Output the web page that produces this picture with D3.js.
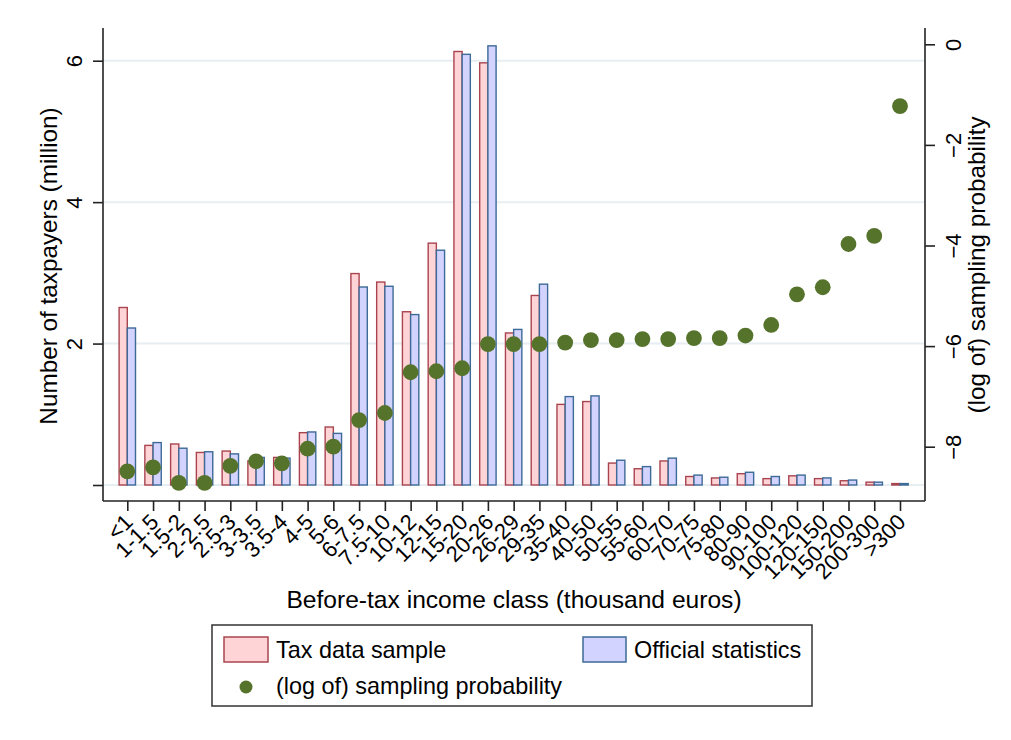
<!DOCTYPE html>
<html>
<head>
<meta charset="utf-8">
<script src="https://cdn.jsdelivr.net/npm/d3@7"></script>
<style>
  html, body { margin: 0; padding: 0; background: #ffffff; }
  svg { display: block; font-family: "Liberation Sans", Arial, sans-serif; }
</style>
</head>
<body>
<svg id="chart" width="1011" height="740"></svg>
<script>
// ---------------- data ----------------
const categories = ["<1","1-1.5","1.5-2","2-2.5","2.5-3","3-3.5","3.5-4","4-5","5-6","6-7.5","7.5-10","10-12","12-15","15-20","20-26","26-29","29-35","35-40","40-50","50-55","55-60","60-70","70-75","75-80","80-90","90-100","100-120","120-150","150-200","200-300",">300"];
const taxSample = [2.51,0.56,0.58,0.46,0.48,0.34,0.39,0.74,0.82,2.99,2.87,2.45,3.42,6.13,5.97,2.15,2.68,1.14,1.18,0.31,0.23,0.34,0.12,0.10,0.16,0.09,0.13,0.09,0.06,0.04,0.02];
const officialStats = [2.22,0.60,0.52,0.47,0.44,0.39,0.38,0.75,0.73,2.80,2.81,2.41,3.32,6.09,6.21,2.20,2.84,1.25,1.26,0.35,0.26,0.38,0.14,0.11,0.18,0.12,0.14,0.10,0.07,0.04,0.02];
const logProb = [-8.49,-8.41,-8.72,-8.72,-8.38,-8.29,-8.33,-8.04,-8.00,-7.47,-7.33,-6.52,-6.50,-6.44,-5.96,-5.96,-5.96,-5.93,-5.88,-5.88,-5.86,-5.86,-5.84,-5.84,-5.79,-5.58,-4.97,-4.83,-3.97,-3.81,-1.23];
const leftTicks = [0, 2, 4, 6];
const leftTickLabels = ["", "2", "4", "6"];
const rightTicks = [0, -2, -4, -6, -8];

// ---------------- styles ----------------
const pinkFill = "#ffd4d6", pinkStroke = "#a9444f";
const blueFill = "#d2d3ff", blueStroke = "#3d6a97";
const dotColor = "#55732b";
const gridColor = "#e6eef2";
const axisColor = "#222222";

const svg = d3.select("#chart");

const plotLeft = 103, plotRight = 925, plotTop = 28, plotBottom = 501;

const x = d3.scalePoint().domain(categories).range([127.3, 900]);
const yL = d3.scaleLinear().domain([0, 6]).range([485, 60.7]);
const yR = d3.scaleLinear().domain([0, -8]).range([44.3, 446.7]);

// gridlines
svg.append("g").selectAll("line").data(leftTicks).join("line")
  .attr("x1", plotLeft).attr("x2", plotRight)
  .attr("y1", d => yL(d)).attr("y2", d => yL(d))
  .attr("stroke", gridColor).attr("stroke-width", 2);

const bw = 8.2;
// bars
const bars = svg.append("g");
bars.selectAll("rect.tax").data(taxSample).join("rect")
  .attr("class", "tax")
  .attr("x", (d, i) => x(categories[i]) - bw)
  .attr("y", d => yL(d))
  .attr("width", bw)
  .attr("height", d => yL(0) - yL(d))
  .attr("fill", pinkFill).attr("stroke", pinkStroke).attr("stroke-width", 1.4);
bars.selectAll("rect.off").data(officialStats).join("rect")
  .attr("class", "off")
  .attr("x", (d, i) => x(categories[i]))
  .attr("y", d => yL(d))
  .attr("width", bw)
  .attr("height", d => yL(0) - yL(d))
  .attr("fill", blueFill).attr("stroke", blueStroke).attr("stroke-width", 1.4);

// dots
svg.append("g").selectAll("circle").data(logProb).join("circle")
  .attr("cx", (d, i) => x(categories[i]))
  .attr("cy", d => yR(d))
  .attr("r", 7.9)
  .attr("fill", dotColor);

// left axis
const leftAxis = d3.axisLeft(yL).tickValues(leftTicks)
  .tickFormat((d, i) => leftTickLabels[i]).tickSize(10).tickSizeOuter(0);
const gL = svg.append("g").attr("transform", `translate(${plotLeft},0)`).call(leftAxis);
gL.select(".domain").remove();
gL.append("line").attr("x1", 0).attr("x2", 0).attr("y1", plotTop).attr("y2", plotBottom)
  .attr("stroke", axisColor).attr("stroke-width", 1.6);
gL.selectAll(".tick line").attr("stroke", axisColor).attr("stroke-width", 1.6);
gL.selectAll(".tick text")
  .attr("x", null).attr("dy", null)
  .attr("transform", "translate(-21,0) rotate(-90)")
  .attr("text-anchor", "middle")
  .attr("fill", "#000").style("font-size", "22px");

// right axis
const rightAxis = d3.axisRight(yR).tickValues(rightTicks)
  .tickFormat(d3.format("d")).tickSize(10).tickSizeOuter(0);
const gR = svg.append("g").attr("transform", `translate(${plotRight},0)`).call(rightAxis);
gR.select(".domain").remove();
gR.append("line").attr("x1", 0).attr("x2", 0).attr("y1", plotTop).attr("y2", plotBottom)
  .attr("stroke", axisColor).attr("stroke-width", 1.6);
gR.selectAll(".tick line").attr("stroke", axisColor).attr("stroke-width", 1.6);
gR.selectAll(".tick text")
  .attr("x", null).attr("dy", null)
  .attr("transform", "translate(36,0) rotate(-90)")
  .attr("text-anchor", "middle")
  .attr("fill", "#000").style("font-size", "22px");

// bottom axis
const bottomAxis = d3.axisBottom(x).tickSize(10).tickSizeOuter(0);
const gB = svg.append("g").attr("transform", `translate(0,${plotBottom})`).call(bottomAxis);
gB.select(".domain").remove();
gB.append("line").attr("x1", plotLeft).attr("x2", plotRight).attr("y1", 0).attr("y2", 0)
  .attr("stroke", axisColor).attr("stroke-width", 1.6);
gB.selectAll(".tick line").attr("stroke", axisColor).attr("stroke-width", 1.6);
gB.selectAll(".tick text")
  .attr("y", null).attr("dy", "0.35em")
  .attr("transform", "translate(1,17) rotate(-45)")
  .attr("text-anchor", "end")
  .attr("fill", "#000").style("font-size", "22px");

// axis titles
svg.append("text")
  .attr("transform", "translate(57,266) rotate(-90)")
  .attr("text-anchor", "middle").style("font-size", "24.3px").attr("fill", "#000")
  .text("Number of taxpayers (million)");
svg.append("text")
  .attr("transform", "translate(985,265) rotate(-90)")
  .attr("text-anchor", "middle").style("font-size", "24.3px").attr("fill", "#000")
  .text("(log of) sampling probability");
svg.append("text")
  .attr("x", 514).attr("y", 608)
  .attr("text-anchor", "middle").style("font-size", "24.6px").attr("fill", "#000")
  .text("Before-tax income class (thousand euros)");

// legend
const lg = svg.append("g");
lg.append("rect").attr("x", 212).attr("y", 625).attr("width", 600).attr("height", 81)
  .attr("fill", "#fff").attr("stroke", "#333").attr("stroke-width", 1.5);
lg.append("rect").attr("x", 224).attr("y", 637).attr("width", 44).attr("height", 25)
  .attr("fill", pinkFill).attr("stroke", pinkStroke).attr("stroke-width", 1.5);
lg.append("text").attr("x", 276).attr("y", 658).style("font-size", "23.4px").attr("fill", "#000")
  .text("Tax data sample");
lg.append("rect").attr("x", 583).attr("y", 637).attr("width", 43).attr("height", 25)
  .attr("fill", blueFill).attr("stroke", blueStroke).attr("stroke-width", 1.5);
lg.append("text").attr("x", 634).attr("y", 658).style("font-size", "23.4px").attr("fill", "#000")
  .text("Official statistics");
lg.append("circle").attr("cx", 246).attr("cy", 687).attr("r", 6.5).attr("fill", dotColor);
lg.append("text").attr("x", 276).attr("y", 694).style("font-size", "23.4px").attr("fill", "#000")
  .text("(log of) sampling probability");
</script>
</body>
</html>
